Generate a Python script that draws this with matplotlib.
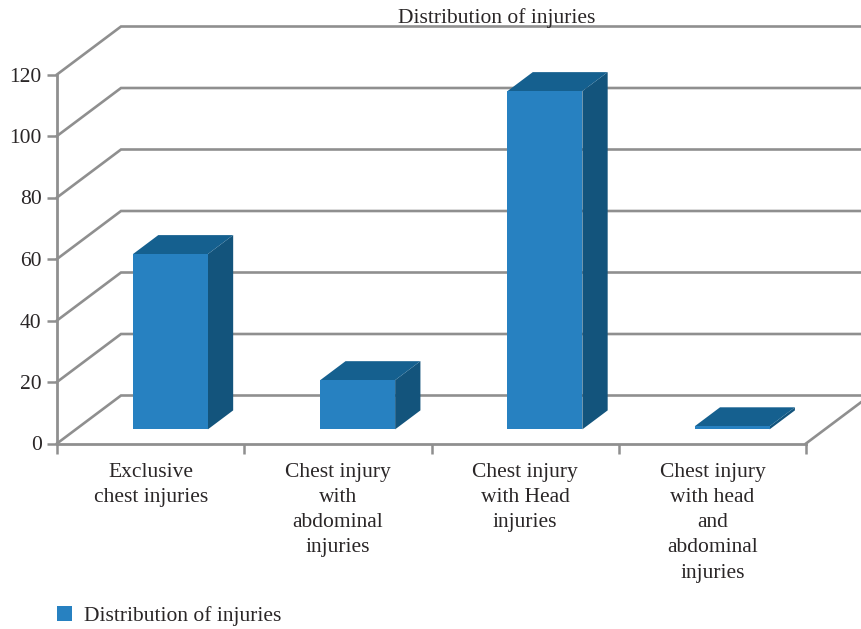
import matplotlib
matplotlib.use('Agg')
import matplotlib.pyplot as plt
from matplotlib.patches import Patch

# DATA
categories = ['Exclusive\nchest injuries',
              'Chest injury\nwith\nabdominal\ninjuries',
              'Chest injury\nwith Head\ninjuries',
              'Chest injury\nwith head\nand\nabdominal\ninjuries']
values = [57, 16, 110, 1]
y_ticks = [0, 20, 40, 60, 80, 100, 120]
series_name = 'Distribution of injuries'

plt.rcParams['font.family'] = ['Liberation Serif', 'DejaVu Serif']

W, H = 861, 629
GRAY = '#8f8f8f'
TEXT = '#2a2627'
FRONT = '#2781c1'
TOP = '#15608f'
SIDE = '#13547c'
FS = 15.5

# depth of the fake 3D box, in data units
DX = 64 / 187.25
DY = 48 / 3.075


def proj(x, y, d):
    return x + d * DX, y + d * DY


fig = plt.figure(figsize=(W / 100, H / 100), dpi=100)
ax = fig.add_axes([57 / W, 1 - 443.5 / H, 749 / W, 369 / H])
ax.set_xlim(0, len(categories))
ax.set_ylim(0, 120)

# Walls
for t in y_ticks:
    x0, y0 = proj(0, t, 0)
    x1, y1 = proj(0, t, 1)
    x2, y2 = proj(len(categories), t, 1)
    ax.plot([x0, x1, x2], [y0, y1, y2], color=GRAY, lw=1.9, clip_on=False,
            zorder=1, solid_joinstyle='miter')
x0, y0 = proj(len(categories), 0, 0)
x1, y1 = proj(len(categories), 0, 1)
ax.plot([x0, x1], [y0, y1], color=GRAY, lw=1.9, clip_on=False, zorder=1)

# Bars
bar_w = 0.4
d0, d1 = 0.295, 0.69
for i, v in enumerate(values):
    xa = i + 0.505 - bar_w / 2
    xb = i + 0.505 + bar_w / 2
    front = [proj(xa, 0, d0), proj(xb, 0, d0), proj(xb, v, d0), proj(xa, v, d0)]
    side = [proj(xb, 0, d0), proj(xb, 0, d1), proj(xb, v, d1), proj(xb, v, d0)]
    top = [proj(xa, v, d0), proj(xb, v, d0), proj(xb, v, d1), proj(xa, v, d1)]
    for poly, c in ((side, SIDE), (top, TOP), (front, FRONT)):
        ax.fill(*zip(*poly), color=c, lw=0, clip_on=False, zorder=3)

# Axes
for s in ('top', 'right'):
    ax.spines[s].set_visible(False)
for s in ('left', 'bottom'):
    ax.spines[s].set_color(GRAY)
    ax.spines[s].set_linewidth(2.0)
    ax.spines[s].set_zorder(2)
ax.patch.set_visible(False)

ax.set_yticks(y_ticks)
ax.tick_params(axis='y', length=7.5, width=1.8, color=GRAY, labelcolor=TEXT,
               labelsize=FS, pad=3.5)
ax.set_xticks(range(len(categories) + 1))
ax.set_xticklabels([])
ax.tick_params(axis='x', which='major', length=7, width=1.8, color=GRAY)
ax.set_xticks([i + 0.5 for i in range(len(categories))], minor=True)
ax.set_xticklabels(categories, minor=True, fontsize=FS, color=TEXT,
                   linespacing=1.44, ha='center', va='top')
ax.tick_params(axis='x', which='minor', length=0, pad=14)

fig.text(496.5 / W, 1 - 18.5 / H, series_name, fontsize=FS, color=TEXT,
         ha='center', va='center')

handle = Patch(color=FRONT, lw=0)
fig.legend([handle], [series_name], loc='center left',
           bbox_to_anchor=(57 / W, 1 - 616 / H), borderaxespad=0, borderpad=0,
           frameon=False, fontsize=FS, labelcolor=TEXT, handlelength=0.7,
           handleheight=0.7, handletextpad=0.56)

plt.savefig('out.png', dpi=100)
